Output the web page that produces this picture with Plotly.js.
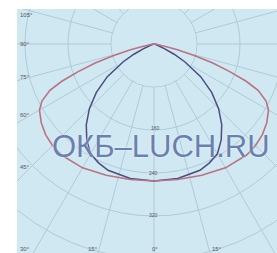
<!DOCTYPE html>
<html><head><meta charset="utf-8">
<script src="https://cdn.plot.ly/plotly-3.0.1.min.js"></script>
<style>
html,body{margin:0;padding:0;overflow:hidden;background:#fff;width:277px;height:253px;}
#box{position:absolute;left:17px;top:9px;width:260px;height:244px;overflow:hidden;}
#chart{position:absolute;left:-121px;top:-223px;width:516px;height:516px;}
</style></head><body>
<div id="box"><div id="chart"></div></div>
<script>
// Half-plane angles (deg from nadir) and intensities (symmetric curves)
const redAngles   = [0, 10, 20, 30, 40, 45, 50, 55, 60, 63, 66, 68, 70, 72, 74, 76, 78, 80, 85, 90];
const redValues   = [255, 256, 260, 266, 269, 267, 263, 256, 246, 234, 212, 185, 150, 115, 78, 45, 22, 10, 3, 0];
const blueAngles  = [0, 10, 20, 25, 30, 35, 40, 45, 50, 55, 60, 63, 66, 70, 75, 80, 90];
const blueValues  = [255, 254, 250, 244, 236, 218, 196, 170, 140, 106, 66, 42, 22, 8, 2, 0, 0];
const radialTickLabels = ['160', '240', '320'];
const angleLabels = ['105°', '90°', '75°', '60°', '45°', '30°', '15°', '0°', '15°'];
const watermark = 'ОКБ–LUCH.RU';

function mirror(a, v) {
  const th = [], r = [];
  for (let i = a.length - 1; i >= 0; i--) { th.push(-a[i]); r.push(v[i]); }
  for (let i = 1; i < a.length; i++) { th.push(a[i]); r.push(v[i]); }
  return {th, r};
}
const red = mirror(redAngles, redValues);
const blue = mirror(blueAngles, blueValues);

const BG = '#cfe8f2', GRID = '#b1cad7';
const W = 516, OX = -104, OY = -214; // chart div position in page px
const px = sx => (sx - OX) / W;
const py = sy => 1 - (sy - OY) / W;

const data = [
  {type:'barpolar', r:[79,79], theta:[90,270], width:[180,180],
   marker:{color:BG, line:{width:0}}, hoverinfo:'skip', showlegend:false},
  {type:'scatterpolar', mode:'lines', r:blue.r, theta:blue.th,
   line:{color:'#4d4b80', width:1.5}, showlegend:false},
  {type:'scatterpolar', mode:'lines', r:red.r, theta:red.th,
   line:{color:'#bb7282', width:1.6}, showlegend:false}
];

// label screen positions (page pixels)
const angPos = [[26,15],[25,44],[25,77],[25,115],[25,167],[25,249],[93,249],[155,249],[217,249]];
const radPos = [[155,128],[153,173],[153,215]];
const annotations = [];
const base = {xref:'paper', yref:'paper', xanchor:'center', yanchor:'middle', showarrow:false, borderpad:0};
angleLabels.forEach((t,i) => annotations.push(Object.assign({}, base, {x:px(angPos[i][0]), y:py(angPos[i][1]),
  text:t, font:{family:'Liberation Sans', size:6, color:'#555'}})));
radialTickLabels.forEach((t,i) => annotations.push(Object.assign({}, base, {x:px(radPos[i][0]), y:py(radPos[i][1]),
  text:t, font:{family:'Liberation Sans', size:5, color:'#555'}})));
annotations.push(Object.assign({}, base, {x:px(161), y:py(146), text:watermark,
  font:{family:'Liberation Sans', size:31, color:'#6a80b0', shadow:'0px 0px 2px #ffffff'}}));

const layout = {
  width:W, height:W, autosize:false,
  margin:{l:0, r:0, t:0, b:0, pad:0},
  paper_bgcolor:'rgba(0,0,0,0)',
  showlegend:false,
  polar:{
    domain:{x:[0,1], y:[0,1]},
    bgcolor:BG,
    angularaxis:{rotation:270, direction:'counterclockwise', tickmode:'linear', tick0:0, dtick:15,
      showticklabels:false, ticks:'', showline:false, gridcolor:GRID, gridwidth:1},
    radialaxis:{range:[0,480], tickmode:'linear', tick0:0, dtick:80, showticklabels:false,
      ticks:'', showline:false, gridcolor:GRID, gridwidth:1}
  },
  annotations
};
Plotly.newPlot('chart', data, layout, {staticPlot:true, displayModeBar:false});
</script>
</body></html>
